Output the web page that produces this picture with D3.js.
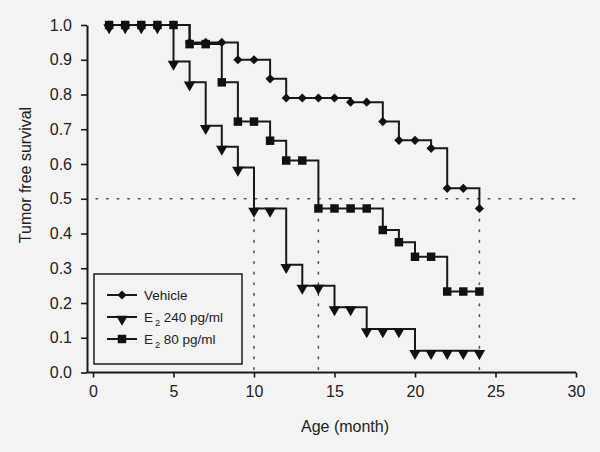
<!DOCTYPE html>
<html lang="en">
<head>
    <meta charset="utf-8">
    <script type="text/javascript" src="https://d3js.org/d3.v7.min.js"></script>
    <style>
        body { margin: 0; background: #f3f3f3; }
        svg { display: block; font-family: "Liberation Sans", Arial, sans-serif; }
    </style>
</head>

<body>
    <script type="text/javascript">
        // SVG width and height
        let w = 600;
        let h = 452;

        // Data: month of observation and survival fraction per group
        let months = [1, 2, 3, 4, 5, 6, 7, 8, 9, 10, 11, 12, 13, 14, 15, 16, 17, 18, 19, 20, 21, 22, 23, 24];
        let vehicle = [1, 1, 1, 1, 1, 0.95, 0.95, 0.95, 0.90, 0.90, 0.845, 0.79, 0.79, 0.79, 0.79, 0.778, 0.778, 0.722, 0.668, 0.668, 0.645, 0.53, 0.53, 0.472];
        let e2High = [1, 1, 1, 1, 0.895, 0.835, 0.71, 0.65, 0.59, 0.472, 0.472, 0.31, 0.25, 0.25, 0.188, 0.188, 0.125, 0.125, 0.125, 0.0625, 0.0625, 0.0625, 0.0625, 0.0625];
        let e2Low = [1, 1, 1, 1, 1, 0.945, 0.945, 0.835, 0.722, 0.722, 0.667, 0.61, 0.61, 0.472, 0.472, 0.472, 0.472, 0.41, 0.375, 0.333, 0.333, 0.233, 0.233, 0.233];

        // Tick labels and reference lines
        let xTicks = [0, 5, 10, 15, 20, 25, 30];
        let yTicks = [0, 0.1, 0.2, 0.3, 0.4, 0.5, 0.6, 0.7, 0.8, 0.9, 1.0];
        let medianY = 0.5;
        let medianX = [10, 14, 24];

        let ink = "#1a1a1a";

        // Create SVG element
        let svg = d3.select("body").append("svg")
                    .attr("width", w)
                    .attr("height", h);

        // Scales
        let x = d3.scaleLinear().domain([0, 30]).range([93, 576]);
        let y = d3.scaleLinear().domain([0, 1]).range([372.5, 25]);
        let axisX = 87;

        // Dotted reference lines
        svg.append("line")
            .attr("x1", axisX + 9).attr("x2", x(30))
            .attr("y1", y(medianY)).attr("y2", y(medianY))
            .attr("stroke", "#555").attr("stroke-width", 1.6)
            .attr("stroke-dasharray", "1.6 9")
            .attr("stroke-linecap", "round");

        svg.selectAll(".vref")
            .data(medianX)
            .join("line")
                .attr("class", "vref")
                .attr("x1", d => x(d)).attr("x2", d => x(d))
                .attr("y1", y(medianY) + 10).attr("y2", y(0))
                .attr("stroke", "#555").attr("stroke-width", 1.6)
                .attr("stroke-dasharray", "1.6 9")
                .attr("stroke-linecap", "round");

        // Axes
        let gx = svg.append("g")
            .attr("transform", "translate(0," + y(0) + ")")
            .call(d3.axisBottom(x).tickValues(xTicks).tickSize(5).tickSizeOuter(0).tickPadding(8));
        gx.select(".domain").remove();
        gx.append("line")
            .attr("x1", axisX).attr("x2", x(30))
            .attr("stroke", ink).attr("stroke-width", 2);

        let gy = svg.append("g")
            .attr("transform", "translate(" + axisX + ",0)")
            .call(d3.axisLeft(y).tickValues(yTicks).tickFormat(d3.format(".1f")).tickSize(6).tickSizeOuter(0).tickPadding(9));
        gy.select(".domain").attr("stroke", ink).attr("stroke-width", 2);

        svg.selectAll(".tick line").attr("stroke", ink).attr("stroke-width", 1.6);
        svg.selectAll(".tick text")
            .attr("font-size", "16px")
            .attr("font-family", "'Liberation Sans', Arial, sans-serif")
            .attr("fill", "#222");

        // Axis titles
        svg.append("text")
            .text("Age (month)")
            .attr("x", 345).attr("y", 432)
            .attr("text-anchor", "middle")
            .attr("font-size", "16px")
            .attr("fill", "#222");

        svg.append("text")
            .text("Tumor free survival")
            .attr("transform", "translate(31,175) rotate(-90)")
            .attr("text-anchor", "middle")
            .attr("font-size", "16px")
            .attr("fill", "#222");

        // Marker shapes (diamond = square turned 45 degrees)
        let shapes = {
            diamond: d3.symbol().type(d3.symbolSquare).size(42),
            square: d3.symbol().type(d3.symbolSquare).size(72),
            triangle: d3.symbol().type(d3.symbolTriangle).size(58)
        };

        function markTransform(shape, cx, cy) {
            if (shape === "triangle") return "translate(" + cx + "," + (cy + 2.5) + ") rotate(180)";
            if (shape === "diamond") return "translate(" + cx + "," + cy + ") rotate(45)";
            return "translate(" + cx + "," + cy + ")";
        }

        let groups = [
            { name: "E2 240", values: e2High, shape: "triangle" },
            { name: "E2 80", values: e2Low, shape: "square" },
            { name: "Vehicle", values: vehicle, shape: "diamond" }
        ];

        let line = d3.line()
            .x(d => x(d[0]))
            .y(d => y(d[1]))
            .curve(d3.curveStepAfter);

        groups.forEach(function(g) {
            let pts = months.map((m, i) => [m, g.values[i]]);
            svg.append("path")
                .datum(pts)
                .attr("d", line)
                .attr("fill", "none")
                .attr("stroke", ink)
                .attr("stroke-width", 2);
        });

        groups.forEach(function(g) {
            let pts = months.map((m, i) => [m, g.values[i]]);
            svg.selectAll(".m-" + g.shape)
                .data(pts)
                .join("path")
                    .attr("class", "m-" + g.shape)
                    .attr("d", shapes[g.shape])
                    .attr("transform", d => markTransform(g.shape, x(d[0]), y(d[1])))
                    .attr("fill", "#111");
        });

        // Legend
        let legend = svg.append("g");
        legend.append("rect")
            .attr("x", 94).attr("y", 274)
            .attr("width", 148).attr("height", 90)
            .attr("fill", "#f3f3f3")
            .attr("stroke", "#2a2a2a").attr("stroke-width", 1.6);

        let legendRows = [
            { shape: "diamond", label: "Vehicle", sub: null, y: 295 },
            { shape: "triangle", label: "E", sub: "2", rest: " 240 pg/ml", y: 317 },
            { shape: "square", label: "E", sub: "2", rest: " 80 pg/ml", y: 339 }
        ];

        legendRows.forEach(function(r) {
            legend.append("line")
                .attr("x1", 107).attr("x2", 137)
                .attr("y1", r.y).attr("y2", r.y)
                .attr("stroke", ink).attr("stroke-width", 2);
            legend.append("path")
                .attr("d", shapes[r.shape])
                .attr("transform", markTransform(r.shape, 122, r.y - (r.shape === "triangle" ? 0.5 : 0)))
                .attr("fill", "#111");

            let t = legend.append("text")
                .attr("x", 144).attr("y", r.y + 5)
                .attr("font-size", "13.5px")
                .attr("fill", "#222");
            t.append("tspan").text(r.label);
            if (r.sub) {
                t.append("tspan").text(r.sub)
                    .attr("font-size", "9px")
                    .attr("dx", 2).attr("dy", 4);
                t.append("tspan").text(r.rest)
                    .attr("dy", -4);
            }
        });
    </script>
</body>
</html>
